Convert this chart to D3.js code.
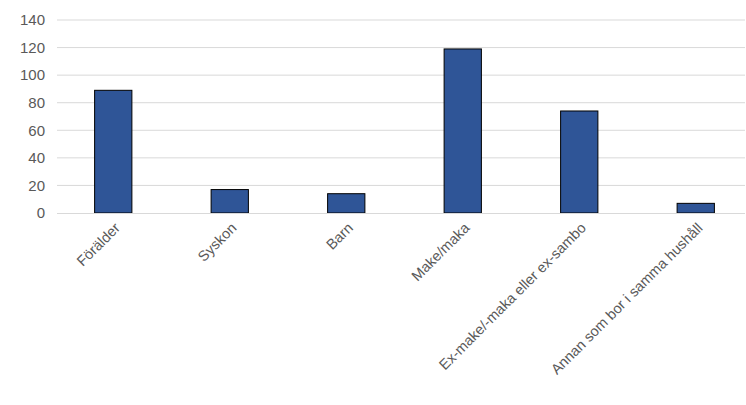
<!DOCTYPE html>
<html><head><meta charset="utf-8">
<script src="https://cdn.jsdelivr.net/npm/d3@7"></script>
<style>body{margin:0;background:#fff}text{font-family:"Liberation Sans",Arial,sans-serif;fill:#595959}</style>
</head><body>
<script>
let categories = ["Förälder", "Syskon", "Barn", "Make/maka", "Ex-make/-maka eller ex-sambo", "Annan som bor i samma hushåll"]
let values = [89, 17, 14, 119, 74, 7]
let yTicks = [0, 20, 40, 60, 80, 100, 120, 140]

let width = 746, height = 405
let margin = {left: 57, right: 1, top: 20, bottom: 192}

let svg = d3.select('body').append('svg')
    .attr('width', width).attr('height', height)

let x = d3.scaleBand()
    .domain(categories)
    .range([55, 754])
    .paddingInner(0.68).paddingOuter(0.34)

let y = d3.scaleLinear()
    .domain([0, 140])
    .range([height - margin.bottom, margin.top])

// gridlines
svg.append('g').selectAll('line')
    .data(yTicks.slice(1)).enter().append('line')
    .attr('x1', margin.left).attr('x2', width - margin.right)
    .attr('y1', d => y(d)).attr('y2', d => y(d))
    .attr('stroke', '#d9d9d9')

let yAxis = svg.append('g')
    .attr('transform', 'translate(' + margin.left + ',0)')
    .call(d3.axisLeft(y).tickValues(yTicks).tickSize(0).tickPadding(12))
yAxis.select('.domain').remove()
yAxis.selectAll('text').style('font-size', '15px').attr('fill', '#595959')

svg.append('g').selectAll('rect')
    .data(values).enter().append('rect')
    .attr('x', (d, i) => x(categories[i]))
    .attr('y', d => y(d))
    .attr('width', x.bandwidth())
    .attr('height', d => y(0) - y(d))
    .attr('fill', '#2f5597')
    .attr('stroke', '#000').attr('stroke-width', 1)

let xAxis = svg.append('g')
    .attr('transform', 'translate(0,' + y(0) + ')')
    .call(d3.axisBottom(x).tickSize(0).tickPadding(8))
xAxis.select('.domain').attr('stroke', '#d9d9d9')
  .attr('d', 'M' + margin.left + ',0.5H' + (width - margin.right))
xAxis.selectAll('text')
    .style('font-size', '14.5px').attr('fill', '#595959')
    .attr('text-anchor', 'end')
    .attr('transform', 'rotate(-45)')
    .attr('dx', '-0.4em').attr('dy', '0.6em')
</script>
</body></html>
